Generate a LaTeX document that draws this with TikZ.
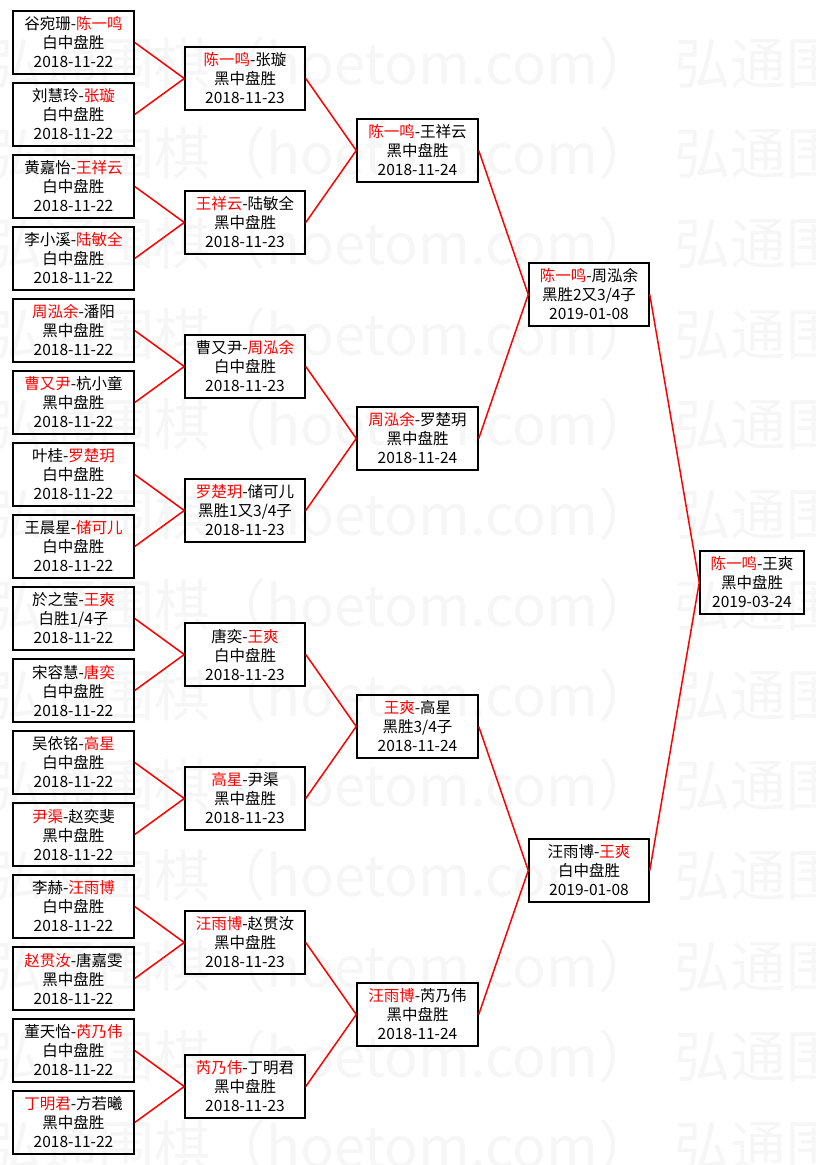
\documentclass[tikz,border=0pt]{standalone}
\usepackage{fontspec}
\setmainfont{Noto Sans CJK SC}
\definecolor{wmgray}{HTML}{F6F6F6}
\newcommand{\win}[1]{\textcolor{red}{#1}}

\begin{document}
\begin{tikzpicture}[x=1pt, y=-1pt,
    game/.style={draw=black, line width=1.5pt, align=center, inner sep=0pt,
      minimum height=63pt, font=\fontsize{15.5}{19}\selectfont},
    rnd1/.style={game, minimum width=121pt},
    rnd2/.style={game, minimum width=120pt},
    rnd3/.style={game, minimum width=121pt},
    rnd4/.style={game, minimum width=120pt},
    rnd5/.style={game, minimum width=104pt},
    mark wm/.style={wmgray, anchor=west, inner sep=0pt, font=\fontsize{56}{60}\selectfont},
    link/.style={red, line width=1.5pt}]

    \useasboundingbox (0,0) rectangle (815,1165);

    % Watermark
    \foreach \i in {0,...,12}
        \node[mark wm] (wm\i) at (-14,63+90.3*\i) {弘通围棋（hoetom.com）\hspace{20pt}弘通围棋};

    % Round 1 (2018-11-22)
    \node[rnd1] (a1) at (73.5,42.5) {谷宛珊-\win{陈一鸣}\\白中盘胜\\2018-11-22};
    \node[rnd1] (a2) at (73.5,114.5) {刘慧玲-\win{张璇}\\白中盘胜\\2018-11-22};
    \node[rnd1] (a3) at (73.5,186.5) {黄嘉怡-\win{王祥云}\\白中盘胜\\2018-11-22};
    \node[rnd1] (a4) at (73.5,258.5) {李小溪-\win{陆敏全}\\白中盘胜\\2018-11-22};
    \node[rnd1] (a5) at (73.5,330.5) {\win{周泓余}-潘阳\\黑中盘胜\\2018-11-22};
    \node[rnd1] (a6) at (73.5,402.5) {\win{曹又尹}-杭小童\\黑中盘胜\\2018-11-22};
    \node[rnd1] (a7) at (73.5,474.5) {叶桂-\win{罗楚玥}\\白中盘胜\\2018-11-22};
    \node[rnd1] (a8) at (73.5,546.5) {王晨星-\win{储可儿}\\白中盘胜\\2018-11-22};
    \node[rnd1] (a9) at (73.5,618.5) {於之莹-\win{王爽}\\白胜1/4子\\2018-11-22};
    \node[rnd1] (a10) at (73.5,690.5) {宋容慧-\win{唐奕}\\白中盘胜\\2018-11-22};
    \node[rnd1] (a11) at (73.5,762.5) {吴依铭-\win{高星}\\白中盘胜\\2018-11-22};
    \node[rnd1] (a12) at (73.5,834.5) {\win{尹渠}-赵奕斐\\黑中盘胜\\2018-11-22};
    \node[rnd1] (a13) at (73.5,906.5) {李赫-\win{汪雨博}\\白中盘胜\\2018-11-22};
    \node[rnd1] (a14) at (73.5,978.5) {\win{赵贯汝}-唐嘉雯\\黑中盘胜\\2018-11-22};
    \node[rnd1] (a15) at (73.5,1050.5) {董天怡-\win{芮乃伟}\\白中盘胜\\2018-11-22};
    \node[rnd1] (a16) at (73.5,1122.5) {\win{丁明君}-方若曦\\黑中盘胜\\2018-11-22};

    % Round 2 (2018-11-23)
    \node[rnd2] (b1) at (245,78.5) {\win{陈一鸣}-张璇\\黑中盘胜\\2018-11-23};
    \node[rnd2] (b2) at (245,222.5) {\win{王祥云}-陆敏全\\黑中盘胜\\2018-11-23};
    \node[rnd2] (b3) at (245,366.5) {曹又尹-\win{周泓余}\\白中盘胜\\2018-11-23};
    \node[rnd2] (b4) at (245,510.5) {\win{罗楚玥}-储可儿\\黑胜1又3/4子\\2018-11-23};
    \node[rnd2] (b5) at (245,654.5) {唐奕-\win{王爽}\\白中盘胜\\2018-11-23};
    \node[rnd2] (b6) at (245,798.5) {\win{高星}-尹渠\\黑中盘胜\\2018-11-23};
    \node[rnd2] (b7) at (245,942.5) {\win{汪雨博}-赵贯汝\\黑中盘胜\\2018-11-23};
    \node[rnd2] (b8) at (245,1086.5) {\win{芮乃伟}-丁明君\\黑中盘胜\\2018-11-23};

    % Round 3 (2018-11-24)
    \node[rnd3] (c1) at (417.5,150.5) {\win{陈一鸣}-王祥云\\黑中盘胜\\2018-11-24};
    \node[rnd3] (c2) at (417.5,438.5) {\win{周泓余}-罗楚玥\\黑中盘胜\\2018-11-24};
    \node[rnd3] (c3) at (417.5,726.5) {\win{王爽}-高星\\黑胜3/4子\\2018-11-24};
    \node[rnd3] (c4) at (417.5,1014.5) {\win{汪雨博}-芮乃伟\\黑中盘胜\\2018-11-24};

    % Semi-finals and final
    \node[rnd4] (d1) at (589,294.5) {\win{陈一鸣}-周泓余\\黑胜2又3/4子\\2019-01-08};
    \node[rnd4] (d2) at (589,870.5) {汪雨博-\win{王爽}\\白中盘胜\\2019-01-08};
    \node[rnd5] (final) at (752,582.5) {\win{陈一鸣}-王爽\\黑中盘胜\\2019-03-24};

    % Links
    \draw[link] (a1.east) -- (b1.west) (a2.east) -- (b1.west);
    \draw[link] (a3.east) -- (b2.west) (a4.east) -- (b2.west);
    \draw[link] (a5.east) -- (b3.west) (a6.east) -- (b3.west);
    \draw[link] (a7.east) -- (b4.west) (a8.east) -- (b4.west);
    \draw[link] (a9.east) -- (b5.west) (a10.east) -- (b5.west);
    \draw[link] (a11.east) -- (b6.west) (a12.east) -- (b6.west);
    \draw[link] (a13.east) -- (b7.west) (a14.east) -- (b7.west);
    \draw[link] (a15.east) -- (b8.west) (a16.east) -- (b8.west);
    \draw[link] (b1.east) -- (c1.west) (b2.east) -- (c1.west);
    \draw[link] (b3.east) -- (c2.west) (b4.east) -- (c2.west);
    \draw[link] (b5.east) -- (c3.west) (b6.east) -- (c3.west);
    \draw[link] (b7.east) -- (c4.west) (b8.east) -- (c4.west);
    \draw[link] (c1.east) -- (d1.west) (c2.east) -- (d1.west);
    \draw[link] (c3.east) -- (d2.west) (c4.east) -- (d2.west);
    \draw[link] (d1.east) -- (final.west) (d2.east) -- (final.west);
\end{tikzpicture}
\end{document}
